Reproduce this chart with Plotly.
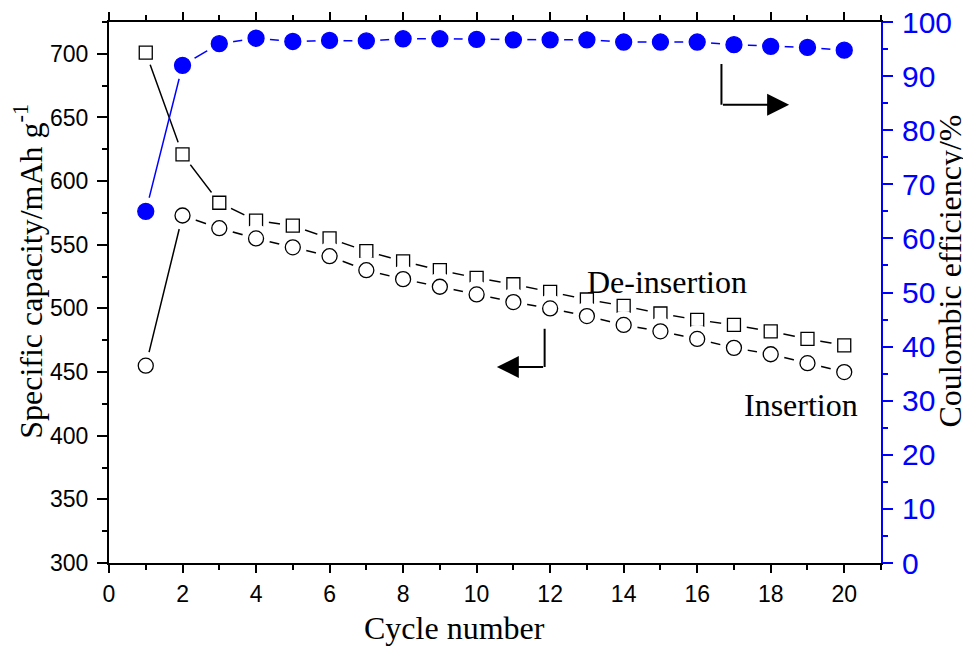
import plotly.graph_objects as go

cycles = list(range(1, 21))
deinsertion = [701, 621, 583, 569, 565, 555, 545, 537, 530, 524, 519, 513, 507, 502, 496, 491, 487, 482, 476, 471]
insertion = [455, 573, 563, 555, 548, 541, 530, 523, 517, 511, 505, 500, 494, 487, 482, 476, 469, 464, 457, 450]
efficiency = [65, 92, 96.0, 97.0, 96.4, 96.6, 96.5, 96.9, 96.9, 96.8, 96.7, 96.7, 96.7, 96.3, 96.3, 96.3, 95.8, 95.5, 95.3, 94.8]

x_ticks = list(range(0, 21, 2))
left_ticks = list(range(300, 701, 50))
right_ticks = list(range(0, 101, 10))

BLUE = "#0000FF"
SERIF = "Liberation Serif, Times New Roman, serif"
SANS = "Liberation Sans, Arial, sans-serif"

fig = go.Figure()

def add_series(y, symbol, size, color, fill, yaxis, mask):
    fig.add_trace(go.Scatter(x=cycles, y=y, mode="lines", yaxis=yaxis,
                             line=dict(color=color, width=1.5), showlegend=False, hoverinfo="skip"))
    fig.add_trace(go.Scatter(x=cycles, y=y, mode="markers", yaxis=yaxis,
                             marker=dict(symbol="circle", size=mask, color="white", line=dict(width=0)),
                             showlegend=False, hoverinfo="skip"))
    fig.add_trace(go.Scatter(x=cycles, y=y, mode="markers", yaxis=yaxis,
                             marker=dict(symbol=symbol, size=size, color=fill, line=dict(color=color, width=1.3)),
                             showlegend=False))

add_series(deinsertion, "square", 13, "black", "white", "y", 26)
add_series(insertion, "circle", 15, "black", "white", "y", 28)
add_series(efficiency, "circle", 16, BLUE, BLUE, "y2", 28)

# page body has an 8px default margin; offset margins so the plot box lands where the reference has it
fig.update_layout(
    width=971, height=646,
    margin=dict(l=101, r=98, t=14, b=91, autoexpand=False),
    paper_bgcolor="white", plot_bgcolor="white",
    xaxis=dict(range=[0, 21], tickvals=x_ticks, ticks="outside", ticklen=8, tickwidth=2,
               showline=True, linecolor="black", linewidth=2, mirror="ticks", automargin=False,
               minor=dict(dtick=1, ticks="outside", ticklen=5, tickwidth=1.5, tickcolor="black"),
               tickcolor="black", showgrid=False, zeroline=False, ticklabelstandoff=1,
               ticklabeloverflow="allow",
               tickfont=dict(family=SANS, size=23, color="black")),
    yaxis=dict(range=[300, 725], tickvals=left_ticks, ticks="outside", ticklen=10, tickwidth=2,
               showline=True, linecolor="black", linewidth=2, automargin=False,
               minor=dict(dtick=25, ticks="outside", ticklen=5, tickwidth=1.5, tickcolor="black"),
               tickcolor="black", showgrid=False, zeroline=False, ticklabelstandoff=4,
               ticklabeloverflow="allow",
               tickfont=dict(family=SANS, size=23, color="black")),
    yaxis2=dict(range=[0, 100], tickvals=right_ticks, overlaying="y", side="right",
                ticks="outside", ticklen=10, tickwidth=2, automargin=False,
                showline=True, linecolor=BLUE, linewidth=2,
                minor=dict(dtick=5, ticks="outside", ticklen=5, tickwidth=1.5, tickcolor=BLUE),
                tickcolor=BLUE, showgrid=False, zeroline=False, ticklabelstandoff=3,
                ticklabeloverflow="allow",
                tickfont=dict(family=SANS, size=30, color=BLUE)),
)

annotations = [
    dict(text="Cycle number", xref="paper", yref="paper", x=0.448, y=-0.12, showarrow=False,
         xanchor="center", yanchor="middle", font=dict(family=SERIF, size=32, color="black")),
    dict(text="Specific capacity/mAh g<sup>-1</sup>", xref="paper", yref="paper", x=-0.105, y=0.54,
         xanchor="center", yanchor="middle",
         textangle=-90, showarrow=False, font=dict(family=SERIF, size=32, color="black")),
    dict(text="Coulombic efficiency/%", xref="paper", yref="paper", x=1.089, y=0.54,
         xanchor="center", yanchor="middle",
         textangle=-90, showarrow=False, font=dict(family=SERIF, size=32, color="black")),
    dict(text="De-insertion", xref="x", yref="y", x=15.19, y=521, showarrow=False,
         xanchor="center", yanchor="middle", font=dict(family=SERIF, size=32, color="black")),
    dict(text="Insertion", xref="x", yref="y", x=18.83, y=424, showarrow=False,
         xanchor="center", yanchor="middle", font=dict(family=SERIF, size=32, color="black")),
    dict(text="", xref="x", yref="y", x=10.55, y=454, ax=11.85, ay=454, axref="x", ayref="y",
         showarrow=True, arrowhead=2, arrowsize=2.2, arrowwidth=2, arrowcolor="black", standoff=0),
    dict(text="", xref="x", yref="y", x=18.5, y=660, ax=16.66, ay=660, axref="x", ayref="y",
         showarrow=True, arrowhead=2, arrowsize=2.2, arrowwidth=2, arrowcolor="black", standoff=0),
]
fig.update_layout(annotations=annotations)

fig.add_shape(type="line", xref="x", yref="y", x0=11.85, x1=11.85, y0=484, y1=454,
              line=dict(color="black", width=2))
fig.add_shape(type="line", xref="x", yref="y", x0=16.66, x1=16.66, y0=692, y1=660,
              line=dict(color="black", width=2))

fig.write_html("out.html")
